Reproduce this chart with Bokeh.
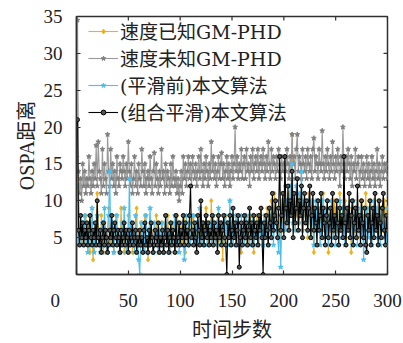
import math
from bokeh.plotting import figure
from bokeh.models import (ColumnDataSource, FixedTicker, LinearAxis, Range1d,
                          Legend, LegendItem)
from bokeh.embed import file_html
from bokeh.resources import INLINE

# ---- data ----
known_gmphd = [
    16, 12, 6, 5, 7, 4, 6, 5, 8, 4, 5, 7, 3, 6, 5, 2, 6, 4, 7, 11,
    5, 6, 4, 8, 5, 3, 7, 6, 4, 5, 9, 6, 4, 7, 5, 3, 6, 8, 4, 5,
    6, 4, 9, 5, 7, 3, 6, 4, 5, 8, 6, 4, 7, 3, 5, 6, 4, 9, 5, 6,
    4, 7, 5, 3, 6, 8, 4, 5, 2, 6, 4, 7, 5, 3, 6, 4, 8, 5, 3, 6,
    5, 4, 7, 3, 6, 5, 4, 8, 5, 3, 6, 4, 7, 5, 3, 6, 8, 4, 5, 7,
    6, 4, 5, 8, 3, 6, 5, 7, 4, 6, 5, 8, 4, 6, 5, 7, 4, 6, 8, 5,
    6, 4, 7, 5, 9, 6, 4, 7, 5, 10, 6, 4, 7, 5, 6, 8, 4, 6, 5, 7,
    2, 6, 5, 8, 4, 7, 6, 5, 8, 4, 6, 7, 5, 8, 4, 6, 7, 5, 3, 6,
    7, 5, 8, 4, 6, 7, 5, 8, 4, 6, 3, 7, 5, 8, 6, 4, 7, 9, 5, 6,
    8, 5, 7, 9, 6, 8, 5, 10, 7, 6, 11, 8, 6, 9, 7, 5, 8, 10, 6, 8,
    12, 7, 9, 6, 11, 8, 10, 19, 7, 9, 6, 11, 8, 10, 7, 9, 12, 6, 8, 10,
    7, 9, 5, 11, 8, 6, 10, 7, 3, 9, 8, 6, 10, 7, 9, 5, 8, 11, 6, 9,
    7, 10, 3, 8, 6, 9, 7, 5, 10, 8, 6, 9, 7, 11, 8, 6, 9, 7, 10, 5,
    8, 6, 9, 7, 3, 8, 10, 6, 9, 7, 5, 8, 6, 10, 7, 9, 6, 8, 11, 7,
    9, 6, 8, 10, 7, 5, 9, 11, 6, 8, 10, 7, 5, 9, 6, 8, 10, 7, 9, 6,
]
unknown_gmphd = [
    34.5, 14, 11, 13, 10, 15, 12, 14, 11, 13, 12, 16, 13, 11, 14, 12, 15, 13, 17.5, 12,
    18, 14, 13, 11, 17, 12, 15, 13, 11, 19, 14, 12, 17, 13, 15, 12, 14, 11, 16, 13,
    12, 15, 14, 13, 16, 14, 12, 15, 13, 18, 14, 12, 15, 11, 13, 16, 12, 14, 11, 15,
    13, 12, 17, 14, 12, 15, 11, 13, 14, 12, 16, 13, 11, 14, 16.5, 12, 15, 13, 11, 14,
    12, 17, 13, 14, 11, 15, 12, 14, 13, 11, 15, 12, 16, 13, 12, 14, 11, 13, 10, 12,
    14, 11, 16, 13, 15, 12, 14, 16, 13, 15, 12, 16, 14, 13, 15, 12, 14, 16, 13, 17,
    14, 12, 15, 13, 16, 14, 12, 15, 13, 18, 14, 16, 13, 15, 12, 14, 16, 13, 15, 16.5,
    13, 15, 12, 14, 16, 13, 15, 12, 14, 16, 13, 15, 20, 14, 16, 13, 15, 14, 17, 13,
    15, 16, 13, 17, 14, 15, 12, 16, 14, 17, 13, 15, 16, 14, 17, 13, 15, 16, 14, 17,
    15, 13, 16, 14, 18, 15, 13, 17, 14, 16, 15, 13, 16, 14, 17, 15, 13, 16, 14, 15,
    16, 14, 17, 15, 13, 16, 14, 19, 15, 16, 13, 17, 19, 14, 16, 15, 13, 17, 15, 14,
    16, 13, 17, 15, 14, 16, 13, 17, 18.5, 14, 16, 15, 13, 17, 15, 14, 19.5, 15, 13, 16,
    14, 17, 15, 13, 16, 14, 18, 15, 13, 16, 14, 17, 15, 12, 16, 14, 20, 15, 13, 16,
    14, 17, 15, 13, 16, 12, 15, 14, 17, 13, 15, 16, 12, 14, 16, 13, 15, 12, 14, 16,
    13, 15, 12, 14, 16, 13, 15, 12, 14, 17, 13, 15, 12, 14, 16, 13, 15, 14, 15, 13,
]
before_smooth = [
    12, 4, 6, 5, 4, 7, 5, 8, 4, 6, 3, 5, 7, 4, 9, 5, 3, 6, 4, 8,
    4, 6, 3, 5, 7, 4, 9, 5, 3, 6, 8, 14, 5, 4, 7, 3, 6, 5, 8, 4,
    6, 3, 5, 7, 4, 9, 5, 3, 6, 4, 13, 5, 7, 4, 6, 3, 8, 5, 4, 2,
    0, 5, 7, 4, 6, 3, 8, 5, 4, 6, 9, 4, 5, 3, 7, 4, 6, 5, 3, 6,
    4, 7, 5, 3, 6, 8, 4, 5, 6, 3, 7, 4, 5, 6, 8, 4, 5, 7, 3, 6,
    4, 7, 5, 2, 6, 8, 4, 5, 7, 4, 6, 5, 8, 4, 6, 7, 4, 5, 9, 6,
    4, 7, 5, 6, 8, 4, 6, 5, 7, 4, 6, 8, 5, 4, 7, 6, 9, 5, 4, 7,
    6, 4, 8, 5, 7, 4, 6, 10, 5, 7, 4, 6, 5, 8, 4, 7, 6, 4, 8, 5,
    7, 4, 6, 8, 5, 7, 4, 6, 5, 8, 4, 6, 7, 5, 4, 8, 6, 5, 7, 4,
    6, 8, 5, 7, 4, 9, 6, 5, 8, 4, 7, 10, 6, 5, 3, 8, 1, 7, 6, 9,
    8, 6, 10, 7, 9, 12, 8, 15, 7, 10, 6, 12, 9, 7, 11, 8, 14, 6, 9, 10,
    7, 9, 6, 10, 8, 5, 9, 7, 4, 8, 10, 6, 9, 7, 4, 8, 10, 6, 9, 7,
    5, 9, 4, 8, 6, 10, 7, 5, 8, 4, 9, 7, 6, 10, 8, 5, 9, 7, 4, 8,
    6, 9, 7, 5, 8, 4, 10, 6, 9, 7, 4, 8, 6, 9, 5, 7, 2, 8, 6, 9,
    7, 5, 9, 6, 4, 8, 10, 6, 9, 7, 5, 8, 4, 9, 6, 7, 5, 8, 4, 9,
]
combined_smooth = [
    21, 6, 4, 8, 5, 7, 4, 6, 5, 7, 4, 6, 8, 5, 4, 6, 5, 7, 4, 10,
    5, 4, 6, 3, 5, 7, 4, 6, 5, 3, 4, 6, 5, 8, 4, 6, 7, 5, 4, 6,
    5, 3, 6, 4, 5, 7, 4, 6, 5, 3, 6, 4, 5, 7, 4, 5, 6, 3, 5, 4,
    6, 4, 5, 3, 6, 7, 4, 5, 3, 6, 4, 7, 5, 3, 4, 6, 5, 4, 7, 3,
    5, 4, 6, 3, 5, 8, 4, 6, 3, 5, 7, 4, 6, 5, 3, 8, 4, 5, 7, 4,
    6, 5, 8, 4, 7, 5, 6, 4, 8, 12, 5, 6, 4, 7, 5, 3, 8, 6, 4, 10,
    5, 7, 4, 6, 8, 5, 7, 4, 6, 5, 8, 4, 7, 5, 6, 3, 8, 5, 7, 4,
    6, 8, 5, 4, 0, 7, 5, 8, 4, 6, 9, 5, 7, 4, 6, 8, 1, 5, 7, 4,
    6, 8, 5, 7, 4, 6, 9, 5, 7, 4, 8, 6, 5, 7, 4, 8, 6, 9, 5, 0,
    7, 5, 8, 6, 4, 9, 7, 5, 11, 6, 8, 10, 7, 5, 9, 16, 6, 8, 11, 5,
    16, 9, 7, 12, 6, 10, 8, 14, 5, 11, 7, 9, 13, 6, 10, 8, 12, 5, 9, 11,
    7, 10, 6, 9, 12, 5, 8, 11, 6, 9, 7, 4, 10, 6, 8, 11, 5, 9, 7, 4,
    8, 10, 5, 7, 9, 4, 11, 6, 8, 5, 10, 7, 4, 9, 6, 8, 5, 16, 7, 4,
    9, 6, 11, 5, 8, 10, 4, 7, 9, 5, 12, 6, 8, 4, 10, 7, 5, 9, 4, 3,
    8, 6, 10, 4, 7, 9, 5, 11, 6, 8, 4, 10, 7, 5, 9, 11, 6, 4, 8, 6,
]
labels = ["速度已知GM-PHD", "速度未知GM-PHD", "(平滑前)本文算法", "(组合平滑)本文算法"]
x_ticks = [0, 50, 100, 150, 200, 250, 300]
y_ticks = [0, 5, 10, 15, 20, 25, 30, 35]
X_MAX, Y_MAX = 300, 35

FONT = "Liberation Serif, Noto Sans CJK SC"
LEG_FONT = "DejaVu Serif, Noto Sans CJK SC"
FRAME = "#303030"
TXT = "#222222"
NBSP = "\u00a0"

p = figure(width=403, height=343, output_backend="svg", toolbar_location=None,
           x_range=Range1d(0, X_MAX), y_range=Range1d(0, Y_MAX),
           min_border_left=76, min_border_right=16, min_border_top=16,
           min_border_bottom=66, x_axis_location=None, y_axis_location=None)
p.grid.visible = False
p.outline_line_color = FRAME
p.outline_line_width = 1.5
p.background_fill_color = "white"
p.border_fill_color = "white"

def style_axis(ax):
    ax.major_tick_in = 4
    ax.major_tick_out = 0
    ax.minor_tick_line_color = None
    ax.axis_line_color = FRAME
    ax.axis_line_width = 1.5
    ax.major_tick_line_color = FRAME
    ax.major_tick_line_width = 1.2
    ax.major_label_text_font = FONT
    ax.major_label_text_color = TXT
    ax.major_label_text_font_size = "19px"
    ax.axis_label_text_font = FONT
    ax.axis_label_text_font_size = "20px"
    ax.axis_label_text_font_style = "normal"
    ax.axis_label_text_color = TXT

xb = LinearAxis(ticker=FixedTicker(ticks=x_ticks), axis_label="时间步数")
style_axis(xb)
# the shared corner "0" sits left of the origin, as in the reference
xb.major_label_overrides = {0: "0" + NBSP * 9}
xb.major_label_standoff = 15
xb.axis_label_standoff = 5
p.add_layout(xb, "below")

yl = LinearAxis(ticker=FixedTicker(ticks=y_ticks), axis_label="OSPA距离")
style_axis(yl)
yl.major_label_overrides = {0: ""}
yl.major_label_standoff = 14
yl.axis_label_standoff = 3
p.add_layout(yl, "left")

# inward ticks on the top and right frame edges
p.ray(x=x_ticks, y=[Y_MAX] * len(x_ticks), length=4, length_units="screen",
      angle=-math.pi / 2, line_color=FRAME, line_width=1.2)
p.ray(x=[X_MAX] * len(y_ticks), y=y_ticks, length=4, length_units="screen",
      angle=math.pi, line_color=FRAME, line_width=1.2)

series = [
    (known_gmphd, "#EDB120", "#EDB120", "diamond", 4.5, "#EDB120"),
    (unknown_gmphd, "#9A9A9A", "#7F7F7F", "star", 5, "#7F7F7F"),
    (before_smooth, "#4DBEEE", "#4DBEEE", "star", 5, "#4DBEEE"),
    (combined_smooth, "#000000", "#000000", "circle", 4, "#555555"),
]
items = []
for (vals, lcol, mcol, mark, sz, fill), lab in zip(series, labels):
    src = ColumnDataSource(dict(x=list(range(1, len(vals) + 1)), y=vals))
    ln = p.line("x", "y", source=src, line_color=lcol, line_width=1.1)
    sc = p.scatter("x", "y", source=src, marker=mark, size=sz,
                   line_color=mcol, fill_color=fill, line_width=1)
    items.append(LegendItem(label=lab, renderers=[ln, sc]))

leg = Legend(items=items, location=(12, 149))
leg.background_fill_alpha = 0
leg.border_line_color = None
leg.label_text_font = LEG_FONT
leg.label_text_font_size = "19px"
leg.label_text_color = TXT
leg.glyph_width = 30
leg.glyph_height = 12
leg.label_height = 26
leg.spacing = 0
leg.padding = 0
leg.margin = 0
leg.label_standoff = 2
p.add_layout(leg)

open("out.html", "w").write(file_html(p, INLINE))
